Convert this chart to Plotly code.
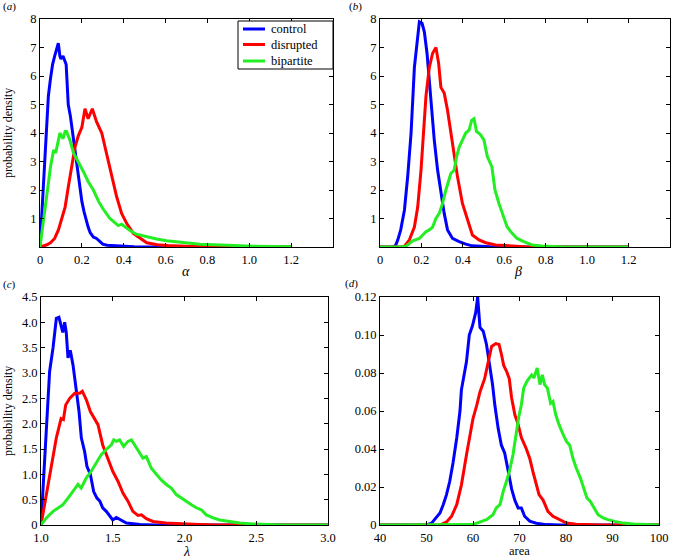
import plotly.graph_objects as go

# ---------------- data ----------------
series_names = ["control", "disrupted", "bipartite"]
series_colors = ["#0000ff", "#ff0000", "#22ee22"]

# Panel (a): alpha
a_ctrl_x = [0, 0.01, 0.02, 0.03, 0.04, 0.05, 0.06, 0.07, 0.08, 0.0875, 0.095, 0.10, 0.11, 0.12, 0.125, 0.135, 0.145, 0.156, 0.165, 0.172, 0.18, 0.19, 0.20, 0.21, 0.22, 0.23, 0.24, 0.255, 0.27, 0.285, 0.30, 0.32, 0.34, 0.36, 0.40, 0.45, 0.50, 0.6, 0.8, 1.0, 1.2]
a_ctrl_y = [0, 1.3, 2.7, 4.1, 5.3, 5.9, 6.4, 6.7, 6.95, 7.15, 6.7, 6.6, 6.7, 6.5, 6.4, 5.0, 4.6, 4.0, 3.5, 3.0, 2.6, 2.0, 1.6, 1.25, 0.95, 0.7, 0.5, 0.35, 0.3, 0.2, 0.1, 0.06, 0.05, 0.03, 0.02, 0.01, 0.0, 0.0, 0.0, 0.0, 0.0]
a_dis_x = [0, 0.03, 0.05, 0.07, 0.088, 0.10, 0.12, 0.135, 0.15, 0.167, 0.183, 0.19, 0.2, 0.215, 0.23, 0.25, 0.27, 0.295, 0.318, 0.342, 0.366, 0.39, 0.414, 0.446, 0.478, 0.51, 0.56, 0.61, 0.7, 0.8, 1.0, 1.2]
a_dis_y = [0, 0.07, 0.15, 0.3, 0.6, 0.9, 1.4, 2.1, 2.8, 3.5, 3.9, 4.0, 4.2, 4.85, 4.5, 4.85, 4.4, 4.0, 3.3, 2.6, 1.77, 1.18, 0.83, 0.48, 0.3, 0.15, 0.08, 0.05, 0.03, 0.01, 0.0, 0.0]
a_bip_x = [0, 0.03, 0.05, 0.065, 0.075, 0.088, 0.095, 0.11, 0.12, 0.127, 0.143, 0.16, 0.183, 0.207, 0.23, 0.255, 0.28, 0.30, 0.334, 0.374, 0.39, 0.398, 0.43, 0.46, 0.51, 0.557, 0.605, 0.653, 0.70, 0.764, 0.83, 0.92, 1.02, 1.11, 1.2]
a_bip_y = [0, 1.65, 2.8, 3.4, 3.3, 3.75, 4.0, 3.8, 4.05, 4.05, 3.75, 3.3, 3.0, 2.65, 2.3, 2.0, 1.6, 1.35, 1.0, 0.75, 0.8, 0.75, 0.58, 0.45, 0.35, 0.28, 0.22, 0.18, 0.14, 0.1, 0.08, 0.05, 0.03, 0.02, 0.01]

# Panel (b): beta
b_ctrl_x = [0, 0.06, 0.075, 0.086, 0.10, 0.118, 0.134, 0.15, 0.166, 0.182, 0.19, 0.203, 0.214, 0.227, 0.246, 0.262, 0.278, 0.294, 0.31, 0.326, 0.35, 0.382, 0.414, 0.446, 0.494, 0.55, 0.7, 1.0, 1.2]
b_ctrl_y = [0, 0.0, 0.05, 0.25, 0.6, 1.3, 2.5, 4.0, 6.3, 7.5, 7.9, 7.85, 7.55, 6.8, 5.15, 3.75, 2.7, 1.88, 1.18, 0.6, 0.3, 0.19, 0.1, 0.04, 0.01, 0.0, 0.0, 0.0, 0.0]
b_dis_x = [0, 0.1, 0.118, 0.142, 0.166, 0.182, 0.198, 0.21, 0.222, 0.238, 0.254, 0.27, 0.283, 0.294, 0.31, 0.326, 0.35, 0.374, 0.398, 0.422, 0.446, 0.478, 0.51, 0.558, 0.622, 0.70, 0.8, 1.0, 1.2]
b_dis_y = [0, 0.0, 0.03, 0.25, 0.7, 1.4, 2.7, 4.0, 5.3, 6.3, 6.8, 7.0, 6.45, 5.6, 5.4, 4.8, 3.6, 2.47, 1.53, 0.95, 0.42, 0.25, 0.15, 0.07, 0.035, 0.01, 0.0, 0.0, 0.0]
b_bip_x = [0, 0.1, 0.126, 0.158, 0.19, 0.222, 0.238, 0.254, 0.27, 0.286, 0.302, 0.318, 0.342, 0.358, 0.37, 0.382, 0.398, 0.414, 0.43, 0.443, 0.454, 0.466, 0.476, 0.486, 0.502, 0.518, 0.54, 0.555, 0.574, 0.59, 0.614, 0.638, 0.662, 0.694, 0.734, 0.782, 0.83, 0.894, 1.0, 1.2]
b_bip_y = [0, 0.0, 0.03, 0.22, 0.3, 0.54, 0.6, 0.7, 1.0, 1.18, 1.53, 2.0, 2.58, 2.7, 3.17, 3.5, 3.75, 4.0, 4.1, 4.45, 4.5, 4.05, 4.0, 3.93, 3.75, 3.17, 2.82, 2.0, 1.53, 1.18, 0.7, 0.48, 0.3, 0.19, 0.07, 0.035, 0.01, 0.0, 0.0, 0.0]

# Panel (c): lambda
c_ctrl_x = [1.0, 1.06, 1.084, 1.107, 1.125, 1.14, 1.152, 1.165, 1.176, 1.188, 1.204, 1.223, 1.242, 1.265, 1.281, 1.304, 1.32, 1.344, 1.367, 1.39, 1.41, 1.43, 1.455, 1.483, 1.5, 1.525, 1.553, 1.595, 1.69, 1.8, 2.0, 2.5, 3.0]
c_ctrl_y = [0, 3.03, 3.5, 4.08, 4.1, 3.9, 3.8, 4.0, 3.8, 3.3, 3.45, 3.16, 2.77, 2.24, 1.72, 1.45, 1.16, 1.0, 0.66, 0.53, 0.47, 0.34, 0.27, 0.17, 0.1, 0.15, 0.1, 0.04, 0.01, 0.0, 0.0, 0.0, 0.0]
c_dis_x = [1.0, 1.06, 1.107, 1.14, 1.156, 1.172, 1.2, 1.235, 1.27, 1.288, 1.316, 1.344, 1.374, 1.397, 1.43, 1.467, 1.5, 1.537, 1.571, 1.606, 1.64, 1.676, 1.7, 1.734, 1.78, 1.87, 1.99, 2.1, 2.22, 2.6, 3.0]
c_dis_y = [0, 0.93, 1.72, 2.1, 2.08, 2.37, 2.5, 2.6, 2.6, 2.64, 2.47, 2.24, 2.1, 1.98, 1.58, 1.32, 1.06, 0.86, 0.63, 0.47, 0.27, 0.19, 0.2, 0.125, 0.07, 0.04, 0.02, 0.01, 0.0, 0.0, 0.0]
c_bip_x = [1.0, 1.037, 1.084, 1.118, 1.153, 1.188, 1.223, 1.258, 1.28, 1.316, 1.35, 1.386, 1.42, 1.455, 1.49, 1.507, 1.525, 1.548, 1.576, 1.606, 1.63, 1.653, 1.688, 1.71, 1.734, 1.769, 1.804, 1.838, 1.873, 1.908, 1.943, 1.978, 2.013, 2.048, 2.082, 2.117, 2.152, 2.2, 2.245, 2.315, 2.385, 2.477, 2.57, 2.686, 3.0]
c_bip_y = [0, 0.14, 0.27, 0.34, 0.4, 0.53, 0.66, 0.8, 0.73, 0.93, 1.06, 1.22, 1.39, 1.49, 1.58, 1.68, 1.65, 1.68, 1.55, 1.65, 1.68, 1.58, 1.42, 1.32, 1.35, 1.12, 1.0, 0.89, 0.8, 0.73, 0.6, 0.53, 0.47, 0.4, 0.34, 0.3, 0.2, 0.14, 0.1, 0.07, 0.04, 0.02, 0.01, 0.0, 0.0]

# Panel (d): area
d_ctrl_x = [40, 50.0, 51.1, 52.2, 52.9, 53.6, 54.3, 55.0, 55.7, 56.5, 57.2, 57.5, 58.0, 58.6, 59.2, 59.9, 60.6, 61.0, 61.5, 62.2, 62.9, 63.6, 64.2, 64.7, 65.4, 66.1, 66.8, 67.6, 68.3, 69.0, 69.7, 70.4, 71.1, 72.2, 73.6, 75.8, 78.7, 100]
d_ctrl_y = [0, 0, 0.001, 0.004, 0.0063, 0.0107, 0.016, 0.023, 0.0326, 0.0458, 0.06, 0.071, 0.077, 0.086, 0.1, 0.105, 0.112, 0.12, 0.104, 0.102, 0.095, 0.084, 0.074, 0.063, 0.051, 0.042, 0.038, 0.028, 0.019, 0.013, 0.009, 0.009, 0.0046, 0.002, 0.0009, 0.0002, 0, 0]
d_dis_x = [40, 52.9, 54.3, 55.4, 56.5, 57.5, 58.6, 59.3, 60.0, 60.8, 61.5, 62.5, 63.3, 64.0, 64.9, 65.6, 66.1, 66.6, 67.2, 67.8, 68.3, 69.0, 69.7, 70.4, 71.4, 72.2, 72.9, 73.5, 74.2, 75.1, 76.1, 77.2, 78.7, 80.1, 82.2, 87.2, 100]
d_dis_y = [0, 0, 0.0016, 0.0046, 0.0107, 0.021, 0.037, 0.046, 0.056, 0.063, 0.07, 0.077, 0.086, 0.094, 0.0955, 0.095, 0.09, 0.084, 0.081, 0.077, 0.067, 0.058, 0.053, 0.046, 0.0405, 0.035, 0.028, 0.023, 0.016, 0.013, 0.0072, 0.0046, 0.0028, 0.001, 0.0004, 0, 0]
d_bip_x = [40, 60.0, 60.8, 61.5, 62.9, 64.3, 65.0, 65.8, 66.5, 67.2, 67.9, 68.6, 69.2, 69.8, 70.4, 70.9, 71.6, 72.6, 73.1, 73.8, 74.4, 74.9, 75.4, 76.0, 76.7, 77.2, 77.8, 78.5, 79.4, 80.1, 80.8, 81.5, 82.2, 83.1, 83.8, 84.5, 85.2, 86.0, 86.9, 88.0, 89.0, 90.5, 92.3, 94.4, 96.6, 100]
d_bip_y = [0, 0.0002, 0.001, 0.0015, 0.0028, 0.0054, 0.009, 0.0107, 0.0177, 0.023, 0.029, 0.037, 0.0475, 0.0563, 0.0633, 0.072, 0.0756, 0.079, 0.0774, 0.0826, 0.0739, 0.079, 0.0739, 0.072, 0.064, 0.065, 0.058, 0.0528, 0.0475, 0.044, 0.042, 0.035, 0.03, 0.0247, 0.0195, 0.0142, 0.0125, 0.009, 0.0054, 0.0037, 0.0028, 0.0019, 0.001, 0.0005, 0.0002, 0]

# Tick values / labels
ab_xticks = [0, 0.2, 0.4, 0.6, 0.8, 1.0, 1.2]
ab_xticktext = ["0", "0.2", "0.4", "0.6", "0.8", "1.0", "1.2"]
a_yticks = [1, 2, 3, 4, 5, 6, 7, 8]
c_xticks = [1.0, 1.5, 2.0, 2.5, 3.0]
c_xticktext = ["1.0", "1.5", "2.0", "2.5", "3.0"]
c_yticks = [0, 0.5, 1.0, 1.5, 2.0, 2.5, 3.0, 3.5, 4.0, 4.5]
c_yticktext = ["0", "0.5", "1.0", "1.5", "2.0", "2.5", "3.0", "3.5", "4.0", "4.5"]
d_xticks = [40, 50, 60, 70, 80, 90, 100]
d_yticks = [0, 0.02, 0.04, 0.06, 0.08, 0.10, 0.12]
d_yticktext = ["0", "0.02", "0.04", "0.06", "0.08", "0.10", "0.12"]

# ---------------- figure ----------------
W, H = 673, 558
FONT = "Liberation Serif"
fig = go.Figure()

panels = [
    ("x", "y", [(a_ctrl_x, a_ctrl_y), (a_dis_x, a_dis_y), (a_bip_x, a_bip_y)]),
    ("x2", "y2", [(b_ctrl_x, b_ctrl_y), (b_dis_x, b_dis_y), (b_bip_x, b_bip_y)]),
    ("x3", "y3", [(c_ctrl_x, c_ctrl_y), (c_dis_x, c_dis_y), (c_bip_x, c_bip_y)]),
    ("x4", "y4", [(d_ctrl_x, d_ctrl_y), (d_dis_x, d_dis_y), (d_bip_x, d_bip_y)]),
]
for xa, ya, data in panels:
    for (xs, ys), name, col in zip(data, series_names, series_colors):
        fig.add_trace(go.Scatter(x=xs, y=ys, mode="lines", name=name,
                                 line=dict(color=col, width=3),
                                 xaxis=xa, yaxis=ya, showlegend=False))

def px_dom(a, b):
    return [a / W, b / W]

def py_dom(top, bottom):
    return [1 - bottom / H, 1 - top / H]

axis_common = dict(showline=True, linecolor="black", linewidth=1, mirror="ticks",
                   ticks="inside", ticklen=4, tickcolor="black", showgrid=False,
                   zeroline=False, automargin=False,
                   tickfont=dict(family=FONT, size=12.5, color="black"))
x_extra = dict(ticklabelstandoff=1)

fig.update_layout(
    template="none",
    width=W, height=H, margin=dict(l=0, r=0, t=0, b=0, pad=0),
    paper_bgcolor="white", plot_bgcolor="white",
    font=dict(family=FONT, size=12, color="black"),
    xaxis=dict(domain=px_dom(40, 333), range=[0, 1.4], tickvals=ab_xticks, ticktext=ab_xticktext,
               anchor="y", **axis_common, **x_extra),
    yaxis=dict(domain=py_dom(19, 247), range=[0, 8], tickvals=a_yticks, anchor="x", **axis_common),
    xaxis2=dict(domain=px_dom(380, 670), range=[0, 1.4], tickvals=ab_xticks, ticktext=ab_xticktext,
                anchor="y2", **axis_common, **x_extra),
    yaxis2=dict(domain=py_dom(19, 247), range=[0, 8], tickvals=a_yticks, anchor="x2", **axis_common),
    xaxis3=dict(domain=px_dom(41, 328), range=[1, 3], tickvals=c_xticks, ticktext=c_xticktext,
                anchor="y3", **axis_common, **x_extra),
    yaxis3=dict(domain=py_dom(297, 525), range=[0, 4.5], tickvals=c_yticks, ticktext=c_yticktext,
                anchor="x3", **axis_common),
    xaxis4=dict(domain=px_dom(380, 659), range=[40, 100], tickvals=d_xticks,
                anchor="y4", **axis_common, **x_extra),
    yaxis4=dict(domain=py_dom(297, 525), range=[0, 0.12], tickvals=d_yticks, ticktext=d_yticktext,
                anchor="x4", **axis_common),
    showlegend=False,
)

def ann(text, x, y, size=12, angle=0, xanchor="center", yanchor="middle"):
    fig.add_annotation(text=text, x=x / W, y=1 - y / H, xref="paper", yref="paper",
                       showarrow=False, textangle=angle, xanchor=xanchor, yanchor=yanchor,
                       font=dict(family=FONT, size=size, color="black"))

# legend box (panel a)
fig.add_shape(type="rect", xref="paper", yref="paper",
              x0=238 / W, x1=333 / W, y0=1 - 69 / H, y1=1 - 21 / H,
              line=dict(color="black", width=1), fillcolor="white", layer="above")
for i, (name, col) in enumerate(zip(series_names, series_colors)):
    yy = [29, 44.5, 61][i]
    fig.add_shape(type="line", xref="paper", yref="paper",
                  x0=243 / W, x1=265 / W, y0=1 - yy / H, y1=1 - yy / H,
                  line=dict(color=col, width=3), layer="above")
    ann(name, 269, yy, size=12.5, xanchor="left")

# panel labels
ann("(<i>a</i>)", 1, 7, size=11, xanchor="left")
ann("(<i>b</i>)", 347, 7, size=11, xanchor="left")
ann("(<i>c</i>)", 1, 284, size=11, xanchor="left")
ann("(<i>d</i>)", 343, 283, size=11, xanchor="left")
# axis titles
ann("probability density", 8, 133, size=12, angle=-90)
ann("probability density", 8, 411, size=12, angle=-90)
ann("<i>α</i>", 186, 272, size=14)
ann("<i>β</i>", 518, 272, size=14)
ann("<i>λ</i>", 186, 551, size=14)
ann("area", 519, 551, size=12.5)

fig.write_html("out.html",
               config={"displayModeBar": False},
               post_script="document.body.style.margin='0';document.body.style.overflow='hidden';")
